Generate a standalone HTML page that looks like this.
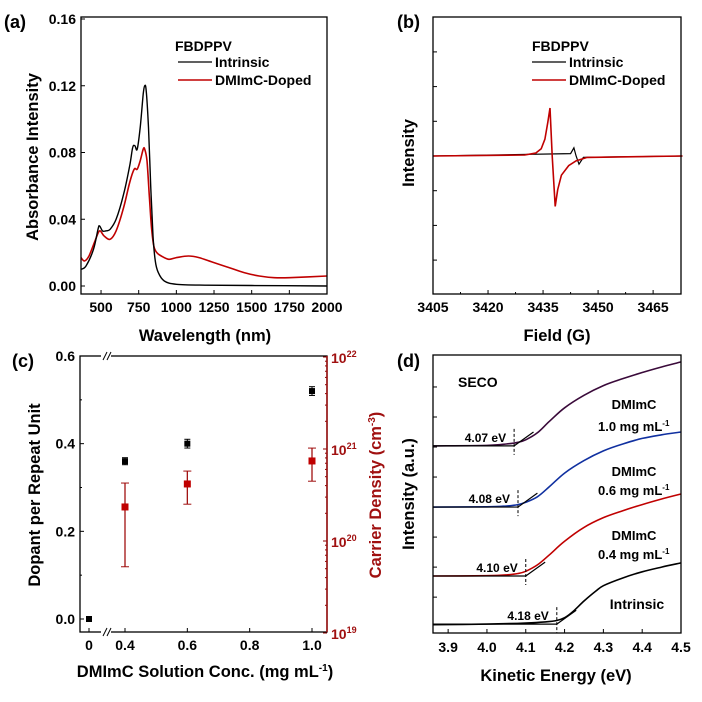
<!DOCTYPE html>
<html><head><meta charset="utf-8"><style>
body{margin:0;background:#fff;}
svg{display:block;font-family:"Liberation Sans",Arial,sans-serif;font-weight:bold;}
</style></head><body>
<svg id="fig" width="702" height="702" viewBox="0 0 702 702" xmlns="http://www.w3.org/2000/svg"></svg>
<script>
// ---------- Panel (a) data ----------
const absWl=[367,400,450,480,490,510,530,560,600,650,690,710,725,740,760,780,790,800,815,830,845,860,880,920,1000,1200,1500,2000];
const absIntrinsic=[0.010,0.012,0.022,0.034,0.036,0.033,0.033,0.034,0.040,0.055,0.072,0.083,0.084,0.082,0.095,0.115,0.120,0.117,0.095,0.060,0.030,0.015,0.008,0.003,0.001,0.0005,0.0003,0.0];
const absWl2=[367,390,420,460,490,520,560,600,650,690,720,740,760,780,790,805,820,835,850,870,900,950,1000,1080,1150,1250,1350,1450,1550,1650,1750,2000];
const absDoped=[0.017,0.015,0.018,0.027,0.033,0.030,0.028,0.033,0.047,0.062,0.070,0.070,0.075,0.082,0.082,0.075,0.055,0.035,0.024,0.020,0.018,0.016,0.017,0.018,0.017,0.014,0.011,0.008,0.006,0.005,0.005,0.006];
const absXTicks=[500,750,1000,1250,1500,1750,2000];
const absYTicks=[0,0.04,0.08,0.12,0.16];
// ---------- Panel (b) data ----------
const eprFieldRed=[3405,3430,3433,3434.5,3435.5,3436.3,3436.9,3437.5,3438.3,3439,3440,3442,3444,3447,3473];
const eprRed=[0,0.02,0.06,0.15,0.35,0.7,1.0,0,-1.05,-0.7,-0.4,-0.2,-0.1,-0.03,0];
const eprFieldBlack=[3405,3442.5,3443.4,3444,3444.8,3446,3473];
const eprBlack=[0,0.05,0.17,0,-0.17,-0.03,0];
const eprXTicks=[3405,3420,3435,3450,3465];
// ---------- Panel (c) data ----------
const concCats=[0,0.4,0.6,1.0];
const dopant=[0.0,0.36,0.40,0.52];
const dopantErr=[0.003,0.008,0.01,0.01];
const carrierConc=[0.4,0.6,1.0];
const carrierLog=[20.37,20.62,20.87];
const carrierLogHi=[20.63,20.76,21.01];
const carrierLogLo=[19.72,20.40,20.65];
const cXTickLabels=["0","0.4","0.6","0.8","1.0"];
const cXTickVals=[0,0.4,0.6,0.8,1.0];
const cYTicks=[0,0.2,0.4,0.6];
const cRTicks=[19,20,21,22];
// ---------- Panel (d) data ----------
const secoE=[3.86,4.0,4.05,4.08,4.1,4.13,4.16,4.2,4.25,4.3,4.35,4.4,4.45,4.5];
const secoEi=[3.86,4.0,4.1,4.15,4.18,4.2,4.22,4.25,4.28,4.3,4.35,4.4,4.45,4.5];
const secoIntrinsic=[0.030,0.032,0.036,0.040,0.045,0.055,0.075,0.115,0.150,0.170,0.198,0.220,0.237,0.252];
const seco04=[0.205,0.206,0.209,0.214,0.222,0.245,0.28,0.33,0.38,0.415,0.44,0.462,0.482,0.5];
const seco06=[0.453,0.454,0.457,0.462,0.47,0.49,0.525,0.575,0.62,0.655,0.68,0.70,0.713,0.723];
const seco10=[0.673,0.675,0.68,0.686,0.695,0.72,0.76,0.81,0.855,0.89,0.915,0.937,0.957,0.975];
const onsets=[4.07,4.08,4.10,4.18];
const onsetBase=[0.673,0.453,0.205,0.032];
const onsetLabels=["4.07 eV","4.08 eV","4.10 eV","4.18 eV"];
const dXTicks=[3.9,4.0,4.1,4.2,4.3,4.4,4.5];

const NS="http://www.w3.org/2000/svg";
const svg=document.getElementById('fig');
function el(tag,attrs,parent){const e=document.createElementNS(NS,tag);for(const k in attrs)e.setAttribute(k,attrs[k]);(parent||svg).appendChild(e);return e;}
function txt(x,y,s,size,anchor,fill,parent){const t=el('text',{x:x,y:y,'font-size':size,'text-anchor':anchor||'middle',fill:fill||'#000'},parent);t.textContent=s;return t;}
function lin(d0,d1,r0,r1){return v=>r0+(v-d0)*(r1-r0)/(d1-d0);}
function pathOf(xs,ys,fx,fy){return xs.map((v,i)=>(i?'L':'M')+fx(v).toFixed(1)+','+fy(ys[i]).toFixed(1)).join(' ');}
function smoothOf(xs,ys,fx,fy){const P=xs.map((v,i)=>[fx(v),fy(ys[i])]);let d='M'+P[0][0].toFixed(1)+','+P[0][1].toFixed(1);
 for(let i=0;i<P.length-1;i++){const p0=P[Math.max(0,i-1)],p1=P[i],p2=P[i+1],p3=P[Math.min(P.length-1,i+2)];
 const c1=[p1[0]+(p2[0]-p0[0])/6,p1[1]+(p2[1]-p0[1])/6],c2=[p2[0]-(p3[0]-p1[0])/6,p2[1]-(p3[1]-p1[1])/6];
 d+=' C'+c1[0].toFixed(1)+','+c1[1].toFixed(1)+' '+c2[0].toFixed(1)+','+c2[1].toFixed(1)+' '+p2[0].toFixed(1)+','+p2[1].toFixed(1);}return d;}
const TK=14, TT=16.5;

// ===== Panel (a) =====
{
const g=el('g',{});
const x=lin(367,2000,81,327), y=lin(0,0.16,286,19);
const L=81,R=327,T=17,B=294;
absXTicks.forEach(v=>{el('line',{x1:x(v),x2:x(v),y1:B,y2:B-4,stroke:'#000'},g);const t=txt(x(v),312,String(v),TK,'middle','#000',g);});
absYTicks.forEach(v=>{el('line',{x1:L,x2:L+4,y1:y(v),y2:y(v),stroke:'#000'},g);const t=txt(76,y(v)+5,v.toFixed(2),TK,'end','#000',g);});
const p1=el('path',{d:smoothOf(absWl2,absDoped,x,y),fill:'none',stroke:'#c00000','stroke-width':1.6},g);

const p2=el('path',{d:smoothOf(absWl,absIntrinsic,x,y),fill:'none',stroke:'#000','stroke-width':1.4},g);

el('rect',{x:L,y:T,width:R-L,height:B-T,fill:'none',stroke:'#000','stroke-width':1.3},g);
txt(175,51,'FBDPPV',14,'start','#000',g);
el('line',{x1:178,x2:212,y1:62,y2:62,stroke:'#000','stroke-width':1.3},g);txt(215,67,'Intrinsic',14,'start','#000',g);
el('line',{x1:178,x2:212,y1:80,y2:80,stroke:'#c00000','stroke-width':1.5},g);txt(215,85,'DMImC-Doped',14,'start','#000',g);
const xt=txt(205,341,'Wavelength (nm)',TT,'middle','#000',g);
const yt=txt(0,0,'Absorbance Intensity',TT,'middle','#000',g);yt.setAttribute('transform','translate(38,157) rotate(-90)');
txt(4,28,'(a)',18,'start','#000',g);
}
// ===== Panel (b) =====
{
const g=el('g',{});
const L=433,R=681,T=17,B=294;
const x=lin(3405,3472.6,L,R), y=lin(0,1,156,108);
eprXTicks.forEach(v=>{el('line',{x1:x(v),x2:x(v),y1:B,y2:B-4,stroke:'#000'},g);const t=txt(x(v),312,String(v),TK,'middle','#000',g);});
[3412.5,3427.5,3442.5,3457.5].forEach(v=>el('line',{x1:x(v),x2:x(v),y1:B,y2:B-2,stroke:'#000'},g));
[-3,-2,-1,0,1,2,3].forEach(k=>{const yy=156-k*34.7;if(yy>T+2&&yy<B-2)el('line',{x1:L,x2:L+4,y1:yy,y2:yy,stroke:'#000'},g);});
const p1=el('path',{d:pathOf(eprFieldBlack,eprBlack,x,y),fill:'none',stroke:'#000','stroke-width':1.2},g);

const p2=el('path',{d:pathOf(eprFieldRed,eprRed,x,y),fill:'none',stroke:'#c00000','stroke-width':1.6},g);

el('rect',{x:L,y:T,width:R-L,height:B-T,fill:'none',stroke:'#000','stroke-width':1.3},g);
txt(532,51,'FBDPPV',14,'start','#000',g);
el('line',{x1:532,x2:566,y1:62,y2:62,stroke:'#000','stroke-width':1.3},g);txt(569,67,'Intrinsic',14,'start','#000',g);
el('line',{x1:532,x2:566,y1:80,y2:80,stroke:'#c00000','stroke-width':1.5},g);txt(569,85,'DMImC-Doped',14,'start','#000',g);
const xt=txt(557,341,'Field (G)',TT,'middle','#000',g);
const yt=txt(0,0,'Intensity',TT,'middle','#000',g);yt.setAttribute('transform','translate(414,153) rotate(-90)');
txt(397,28,'(b)',18,'start','#000',g);
}
// ===== Panel (c) =====
{
const g=el('g',{});
const L=80,R=327,T=356,B=632;
const xs=v=>v===0?89:lin(0.4,1.0,125,312)(v);
const y=lin(0,0.6,619,356), yr=lin(19,22,633,357);
el('rect',{x:L,y:T,width:R-L,height:B-T,fill:'none',stroke:'#000','stroke-width':1.3},g);
el('rect',{x:101,y:T-4,width:10,height:8,fill:'#fff'},g);el('rect',{x:101,y:B-4,width:10,height:8,fill:'#fff'},g);
[[103,360,107,352],[107,360,111,352],[103,636,107,628],[107,636,111,628]].forEach(a=>el('line',{x1:a[0],y1:a[1],x2:a[2],y2:a[3],stroke:'#000'},g));
cXTickVals.forEach((v,i)=>{el('line',{x1:xs(v),x2:xs(v),y1:B,y2:B-4,stroke:'#000'},g);const t=txt(xs(v),650,cXTickLabels[i],TK,'middle','#000',g);});
cYTicks.forEach(v=>{el('line',{x1:L,x2:L+4,y1:y(v),y2:y(v),stroke:'#000'},g);const t=txt(75,y(v)+5,v.toFixed(1),TK,'end','#000',g);});
[0.1,0.3,0.5].forEach(v=>el('line',{x1:L,x2:L+2,y1:y(v),y2:y(v),stroke:'#000'},g));
cRTicks.forEach(v=>{el('line',{x1:R,x2:R-4,y1:yr(v),y2:yr(v),stroke:'#8b0000'},g);const t=el('text',{x:331,y:yr(v)+6,'font-size':14,fill:'#a01010'},g);t.textContent='10';const s=el('tspan',{dy:-6,'font-size':9},t);s.textContent=String(v);});
[19,20,21].forEach(d=>{for(let m=2;m<10;m++){const yy=yr(d+Math.log10(m));el('line',{x1:R,x2:R-2,y1:yy,y2:yy,stroke:'#8b0000'},g);}});
el('line',{x1:R,x2:R,y1:T,y2:B,stroke:'#a01010','stroke-width':1.5},g);
concCats.forEach((c,i)=>{const cx=xs(c),cy=y(dopant[i]),e=dopantErr[i];
 el('line',{x1:cx,x2:cx,y1:y(dopant[i]+e),y2:y(dopant[i]-e),stroke:'#000'},g);
 el('line',{x1:cx-3,x2:cx+3,y1:y(dopant[i]+e),y2:y(dopant[i]+e),stroke:'#000'},g);
 el('line',{x1:cx-3,x2:cx+3,y1:y(dopant[i]-e),y2:y(dopant[i]-e),stroke:'#000'},g);
 const r=el('rect',{x:cx-3,y:cy-3,width:6,height:6,fill:'#000'},g);
 });
carrierConc.forEach((c,i)=>{const cx=xs(c);
 el('line',{x1:cx,x2:cx,y1:yr(carrierLogHi[i]),y2:yr(carrierLogLo[i]),stroke:'#a01010','stroke-width':1.3},g);
 el('line',{x1:cx-4,x2:cx+4,y1:yr(carrierLogHi[i]),y2:yr(carrierLogHi[i]),stroke:'#a01010'},g);
 el('line',{x1:cx-4,x2:cx+4,y1:yr(carrierLogLo[i]),y2:yr(carrierLogLo[i]),stroke:'#a01010'},g);
 const r=el('rect',{x:cx-3.5,y:yr(carrierLog[i])-3.5,width:7,height:7,fill:'#c00000'},g);
 });
const xt=el('text',{x:205,y:677,'font-size':TT,'text-anchor':'middle'},g);xt.textContent='DMImC Solution Conc. (mg mL';
const sp=el('tspan',{dy:-6,'font-size':10},xt);sp.textContent='-1';const sp2=el('tspan',{dy:6},xt);sp2.textContent=')';

const yt=txt(0,0,'Dopant per Repeat Unit',TT,'middle','#000',g);yt.setAttribute('transform','translate(40,495) rotate(-90)');
const rt=el('text',{'font-size':TT,'text-anchor':'middle',fill:'#a01010',transform:'translate(381,495) rotate(-90)'},g);rt.textContent='Carrier Density (cm';
const rs=el('tspan',{dy:-6,'font-size':10},rt);rs.textContent='-3';const rs2=el('tspan',{dy:6},rt);rs2.textContent=')';

txt(12,367,'(c)',18,'start','#000',g);
}
// ===== Panel (d) =====
{
const g=el('g',{});
const L=433,R=681,T=355,B=633;
const x=lin(3.861,4.5,L,R), y=lin(0,1,B,T);
dXTicks.forEach(v=>{el('line',{x1:x(v),x2:x(v),y1:B,y2:B-4,stroke:'#000'},g);const t=txt(x(v),652,v.toFixed(1),TK,'middle','#000',g);});
[0.885,0.777,0.669,0.561,0.453,0.345,0.237,0.129].forEach(v=>el('line',{x1:L,x2:L+4,y1:y(v),y2:y(v),stroke:'#000'},g));
const series=[[secoEi,secoIntrinsic,'#000','intrinsic-seco-line'],[secoE,seco04,'#c00000','seco-0.4-line'],[secoE,seco06,'#1030a0','seco-0.6-line'],[secoE,seco10,'#3a0a3a','seco-1.0-line']];
series.forEach(s=>{const p=el('path',{d:smoothOf(s[0],s[1],x,y),fill:'none',stroke:s[2],'stroke-width':1.6},g);});
onsets.forEach((o,i)=>{const b=onsetBase[i];
 el('line',{x1:L,x2:x(o),y1:y(b),y2:y(b),stroke:'#000','stroke-width':1.2},g);
 el('line',{x1:x(o),x2:x(o+0.05),y1:y(b),y2:y(b+0.05),stroke:'#000','stroke-width':1.2},g);
 el('line',{x1:x(o),x2:x(o),y1:y(b)-17,y2:y(b)+9,stroke:'#000','stroke-dasharray':'3,2'},g);
 const t=txt(x(o)-8,y(b)-4,onsetLabels[i],12,'end','#000',g);});
el('rect',{x:L,y:T,width:R-L,height:B-T,fill:'none',stroke:'#000','stroke-width':1.3},g);
txt(458,387,'SECO',14,'start','#000',g);
[['DMImC',409],['DMImC',476],['DMImC',540]].forEach(a=>txt(634,a[1],a[0],13,'middle','#000',g));
[['1.0 mg mL',431],['0.6 mg mL',495],['0.4 mg mL',559]].forEach(a=>{const t=el('text',{x:598,y:a[1],'font-size':13},g);t.textContent=a[0];const s=el('tspan',{dy:-5,'font-size':8},t);s.textContent='-1';});
txt(637,609,'Intrinsic',14,'middle','#000',g);
const xt=txt(556,681,'Kinetic Energy (eV)',TT,'middle','#000',g);
const yt=txt(0,0,'Intensity (a.u.)',TT,'middle','#000',g);yt.setAttribute('transform','translate(414,494) rotate(-90)');
txt(397,367,'(d)',18,'start','#000',g);
}
</script>
</body></html>
